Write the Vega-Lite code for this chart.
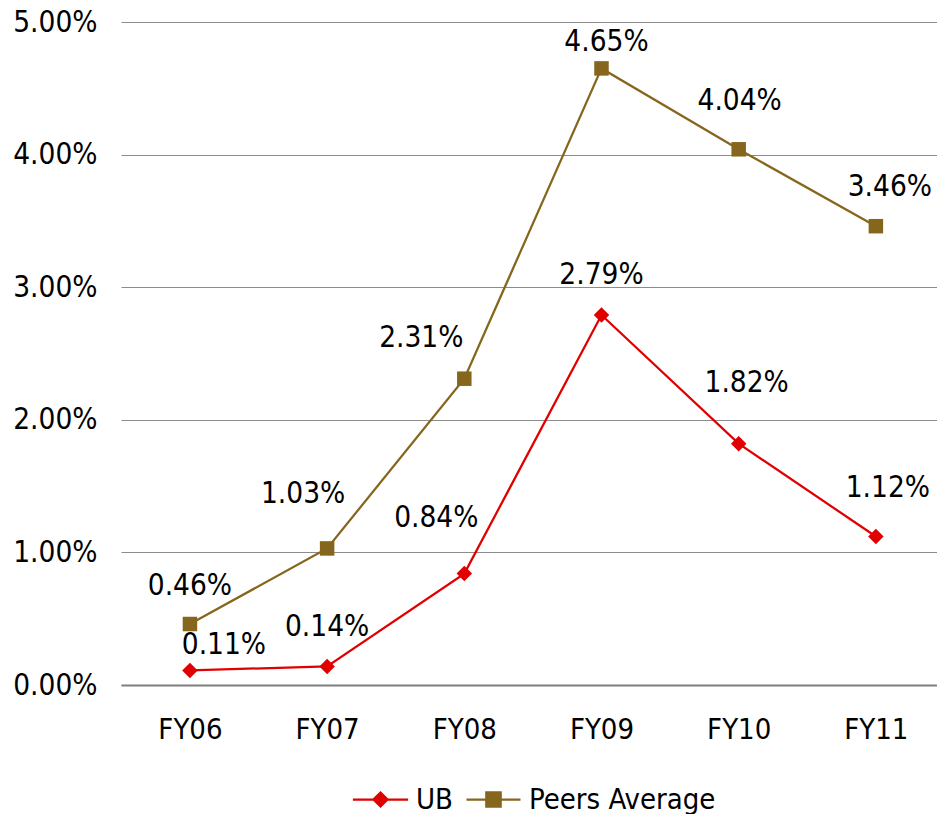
{
  "$schema": "https://vega.github.io/schema/vega-lite/v6.json",
  "width": 816,
  "height": 663,
  "autosize": {"type": "none"},
  "padding": {"left": 121, "top": 22, "right": 0, "bottom": 129},
  "background": "white",
  "config": {
    "view": {"stroke": null},
    "font": "DejaVu Sans Condensed",
    "text": {"fontSize": 29.5, "font": "DejaVu Sans Condensed", "color": "#000000", "baseline": "middle", "align": "center"},
    "legend": {
      "orient": "none", "direction": "horizontal", "title": null,
      "labelFontSize": 29, "labelFont": "DejaVu Sans Condensed", "labelColor": "#000000", "labelLimit": 0,
      "symbolSize": 144, "symbolStrokeWidth": 2.25, "symbolOpacity": 1, "labelOffset": 21
    }
  },
  "data": {
    "values": [
      {"year": "FY06", "series": "UB", "value": 0.0011},
      {"year": "FY07", "series": "UB", "value": 0.0014},
      {"year": "FY08", "series": "UB", "value": 0.0084},
      {"year": "FY09", "series": "UB", "value": 0.0279},
      {"year": "FY10", "series": "UB", "value": 0.0182},
      {"year": "FY11", "series": "UB", "value": 0.0112},
      {"year": "FY06", "series": "Peers Average", "value": 0.0046},
      {"year": "FY07", "series": "Peers Average", "value": 0.0103},
      {"year": "FY08", "series": "Peers Average", "value": 0.0231},
      {"year": "FY09", "series": "Peers Average", "value": 0.0465},
      {"year": "FY10", "series": "Peers Average", "value": 0.0404},
      {"year": "FY11", "series": "Peers Average", "value": 0.0346}
    ]
  },
  "encoding": {
    "x": {
      "field": "year", "type": "ordinal", "sort": null, "title": null,
      "scale": {"padding": 0.474, "align": 0.53},
      "axis": {"labelAngle": 0, "labelFontSize": 29, "labelFont": "DejaVu Sans Condensed", "labelColor": "#000000", "labelPadding": 30, "ticks": false, "grid": false, "domain": true, "domainColor": "#7f7f7f", "domainWidth": 2}
    },
    "y": {
      "field": "value", "type": "quantitative", "title": null,
      "scale": {"domain": [0, 0.05], "nice": false},
      "axis": {"format": ".2%", "values": [0, 0.01, 0.02, 0.03, 0.04, 0.05], "labelFontSize": 29.5, "labelFont": "DejaVu Sans Condensed", "labelColor": "#000000", "labelPadding": 24, "ticks": false, "domain": false, "grid": true, "gridColor": "#8c8c8c", "gridWidth": 1}
    }
  },
  "layer": [
    {
      "transform": [{"filter": "datum.series === 'UB'"}],
      "mark": {"type": "line", "strokeWidth": 2.25},
      "encoding": {
        "stroke": {
          "field": "series", "type": "nominal",
          "scale": {"domain": ["UB", "Peers Average"], "range": ["#e00000", "#86661c"]},
          "legend": {
            "values": ["UB"], "legendX": 245, "legendY": 763,
            "symbolType": "M-4.6,0H4.6M0,-1.17L1.17,0L0,1.17L-1.17,0Z",
            "symbolFillColor": "#e00000", "symbolStrokeColor": "#e00000"
          }
        }
      }
    },
    {
      "transform": [{"filter": "datum.series === 'Peers Average'"}],
      "mark": {"type": "line", "strokeWidth": 2.25},
      "encoding": {
        "color": {
          "field": "series", "type": "nominal",
          "scale": {"domain": ["Peers Average", "UB"], "range": ["#86661c", "#e00000"]},
          "legend": {
            "values": ["Peers Average"], "legendX": 358, "legendY": 763,
            "symbolType": "M-4.5,0H4.5M-1.2,-1.2H1.2V1.2H-1.2Z",
            "symbolFillColor": "#86661c", "symbolStrokeColor": "#86661c"
          }
        }
      }
    },
    {
      "transform": [{"filter": "datum.series === 'UB'"}],
      "mark": {"type": "point", "filled": true, "opacity": 1, "shape": "diamond", "size": 240, "color": "#e00000"}
    },
    {
      "transform": [{"filter": "datum.series === 'Peers Average'"}],
      "mark": {"type": "point", "filled": true, "opacity": 1, "shape": "square", "size": 210, "color": "#86661c"}
    },
    {"transform": [{"filter": "datum.series === 'Peers Average' && datum.year === 'FY06'"}], "mark": {"type": "text", "dx": 0, "dy": -38}, "encoding": {"text": {"field": "value", "format": ".2%"}}},
    {"transform": [{"filter": "datum.series === 'Peers Average' && datum.year === 'FY07'"}], "mark": {"type": "text", "dx": -24, "dy": -54}, "encoding": {"text": {"field": "value", "format": ".2%"}}},
    {"transform": [{"filter": "datum.series === 'Peers Average' && datum.year === 'FY08'"}], "mark": {"type": "text", "dx": -43, "dy": -41}, "encoding": {"text": {"field": "value", "format": ".2%"}}},
    {"transform": [{"filter": "datum.series === 'Peers Average' && datum.year === 'FY09'"}], "mark": {"type": "text", "dx": 5, "dy": -26}, "encoding": {"text": {"field": "value", "format": ".2%"}}},
    {"transform": [{"filter": "datum.series === 'Peers Average' && datum.year === 'FY10'"}], "mark": {"type": "text", "dx": 1, "dy": -48}, "encoding": {"text": {"field": "value", "format": ".2%"}}},
    {"transform": [{"filter": "datum.series === 'Peers Average' && datum.year === 'FY11'"}], "mark": {"type": "text", "dx": 14, "dy": -39}, "encoding": {"text": {"field": "value", "format": ".2%"}}},
    {"transform": [{"filter": "datum.series === 'UB' && datum.year === 'FY06'"}], "mark": {"type": "text", "dx": 34, "dy": -25}, "encoding": {"text": {"field": "value", "format": ".2%"}}},
    {"transform": [{"filter": "datum.series === 'UB' && datum.year === 'FY07'"}], "mark": {"type": "text", "dx": 0, "dy": -39}, "encoding": {"text": {"field": "value", "format": ".2%"}}},
    {"transform": [{"filter": "datum.series === 'UB' && datum.year === 'FY08'"}], "mark": {"type": "text", "dx": -28, "dy": -56}, "encoding": {"text": {"field": "value", "format": ".2%"}}},
    {"transform": [{"filter": "datum.series === 'UB' && datum.year === 'FY09'"}], "mark": {"type": "text", "dx": 0, "dy": -40}, "encoding": {"text": {"field": "value", "format": ".2%"}}},
    {"transform": [{"filter": "datum.series === 'UB' && datum.year === 'FY10'"}], "mark": {"type": "text", "dx": 8, "dy": -61}, "encoding": {"text": {"field": "value", "format": ".2%"}}},
    {"transform": [{"filter": "datum.series === 'UB' && datum.year === 'FY11'"}], "mark": {"type": "text", "dx": 12, "dy": -48}, "encoding": {"text": {"field": "value", "format": ".2%"}}}
  ]
}
